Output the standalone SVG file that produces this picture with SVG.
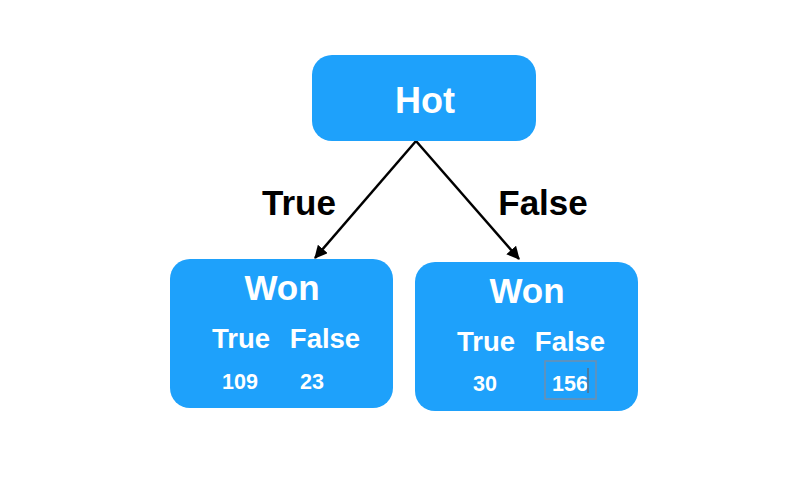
<svg xmlns="http://www.w3.org/2000/svg" width="806" height="490" viewBox="0 0 806 490">
<style>
.box{fill:#1ea1fb;}
.t{font-family:"Liberation Sans",Arial,sans-serif;font-weight:bold;fill:#fff;text-anchor:middle;}
.lbl{font-family:"Liberation Sans",Arial,sans-serif;font-weight:bold;fill:#000;text-anchor:middle;font-size:35px;}
.edge{stroke:#000;stroke-width:2.5;fill:none;marker-end:url(#ah);}
</style>
<defs>
<marker id="ah" markerWidth="13" markerHeight="13" refX="11" refY="6" orient="auto" markerUnits="userSpaceOnUse" viewBox="0 0 12 12">
<path d="M0,0 L12,6 L0,12 Z" fill="#000"/>
</marker>
</defs>
<rect width="806" height="490" fill="#fff"/>
<g id="connectors">
<line class="edge" x1="416" y1="141" x2="315" y2="258"/>
<line class="edge" x1="416" y1="141" x2="519" y2="259"/>
<text class="lbl" x="299" y="215">True</text>
<text class="lbl" x="543" y="215">False</text>
</g>
<g id="hot">
<rect class="box" x="312" y="55" width="224" height="86" rx="20"/>
<text class="t" x="425" y="113" font-size="36">Hot</text>
</g>
<g id="won-true">
<rect class="box" x="170" y="259" width="223" height="149" rx="20"/>
<text class="t" x="282" y="300" font-size="35">Won</text>
<text class="t" x="241" y="348" font-size="27.5">True</text>
<text class="t" x="325" y="348" font-size="27.5">False</text>
<text class="t" x="240" y="389" font-size="21.5">109</text>
<text class="t" x="312" y="389" font-size="21.5">23</text>
</g>
<g id="won-false">
<rect class="box" x="415" y="262" width="223" height="149" rx="20"/>
<text class="t" x="527" y="303" font-size="35">Won</text>
<text class="t" x="486" y="351" font-size="27.5">True</text>
<text class="t" x="570" y="351" font-size="27.5">False</text>
<text class="t" x="485" y="391" font-size="21.5">30</text>
<text class="t" x="570" y="391" font-size="21.5">156</text>
<rect x="545" y="361" width="51" height="38" fill="none" stroke="#6f8fae" stroke-width="1.5"/>
<line x1="588" y1="368" x2="588" y2="393" stroke="#5a6f85" stroke-width="1.5"/>
</g>
</svg>
